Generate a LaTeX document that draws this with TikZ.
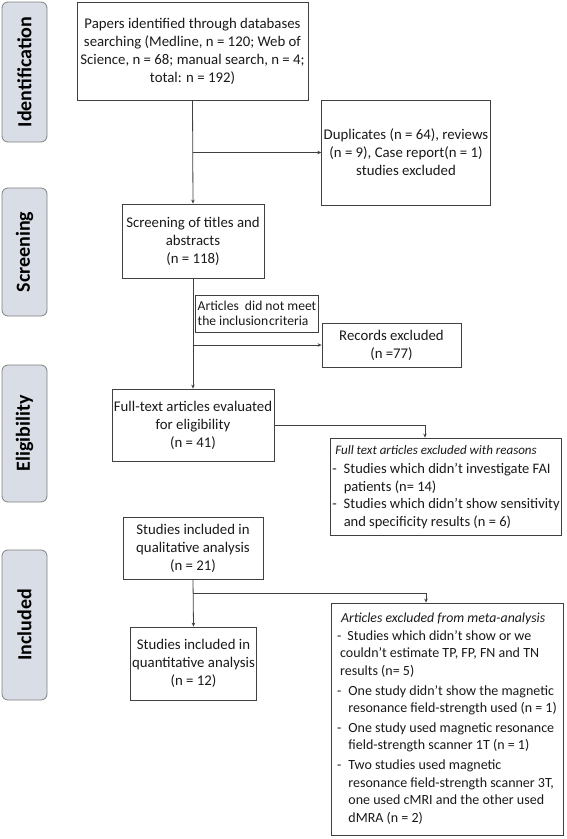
\documentclass[tikz,border=0pt]{standalone}
\usepackage{fontspec}
\setmainfont{Carlito}
\usetikzlibrary{arrows.meta}
\definecolor{phasefill}{RGB}{216,221,230}
\definecolor{linecol}{RGB}{64,64,64}
\begin{document}
\begin{tikzpicture}[x=1pt,y=-1pt,
  box/.style={draw=linecol, line width=0.8pt, align=center, inner sep=2pt,
    font=\fontsize{14.8}{18}\selectfont, text=black!90},
  phase/.style={draw=black!50, fill=phasefill, rounded corners=6pt, line width=0.8pt,
    minimum height=45, rotate=90, inner sep=0pt, font=\fontsize{20}{24}\selectfont\bfseries},
  conn/.style={draw=linecol, line width=0.8pt},
  arr/.style={conn, -{Stealth[length=4pt,width=3.5pt]}}]
\useasboundingbox (0,0) rectangle (567,839);

% phase labels
\node[phase, minimum width=140] (pid) at (24.5,72) {Identification};
\node[phase, minimum width=128] (pscr) at (24.5,252) {Screening};
\node[phase, minimum width=137] (pel) at (24.5,433.5) {Eligibility};
\node[phase, minimum width=150] (pinc) at (24.5,625) {Included};

% boxes
\node[box, minimum width=231, minimum height=98] (id) at (192.5,51)
  {Papers identified through databases\\searching (Medline, n = 120; Web of\\Science, n = 68; manual search, n = 4;\\total: n = 192)};
\node[box, minimum width=168, minimum height=105] (dup) at (406,152.5)
  {Duplicates (n = 64), reviews\\(n = 9), Case report(n = 1)\\studies excluded};
\node[box, minimum width=142, minimum height=74] (scr) at (193,241)
  {Screening of titles and\\abstracts\\(n = 118)};
\node[box, minimum width=122, minimum height=37, align=left,
  font=\fontsize{13.6}{15.5}\selectfont] (crit) at (257,313.5)
  {Articles~ did not meet\\the inclusion\hspace{1pt}criteria};
\node[box, minimum width=139, minimum height=44] (rec) at (391.5,345)
  {Records excluded\\(n =77)};
\node[box, minimum width=160, minimum height=72] (full) at (193,425)
  {Full-text articles evaluated\\for eligibility\\(n = 41)};
\node[box, minimum width=228, minimum height=97, font=\fontsize{14.5}{17.5}\selectfont] (fte) at (446,486.5)
  {\begin{tabular}{@{}l@{\hspace{7pt}}l@{}}
   \multicolumn{2}{@{}l@{}}{\fontsize{13}{17}\selectfont\itshape\hspace{3pt}Full text articles excluded with reasons}\\[2pt]
   - & Studies which didn't investigate FAI\\
     & patients (n= 14)\\
   - & Studies which didn't show sensitivity\\
     & and specificity results (n = 6)
   \end{tabular}};
\node[box, minimum width=140, minimum height=62] (qual) at (193,548)
  {Studies included in\\qualitative analysis\\(n = 21)};
\node[box, minimum width=125, minimum height=73] (quant) at (193.5,663.5)
  {Studies included in\\quantitative analysis\\(n = 12)};
\node[box, minimum width=232, minimum height=232, font=\fontsize{14}{17.6}\selectfont] (ame) at (447,719)
  {\begin{tabular}{@{}l@{\hspace{7pt}}l@{}}
   \multicolumn{2}{@{}l@{}}{\fontsize{13.8}{17}\selectfont\itshape\hspace{4pt}Articles excluded from meta-analysis}\\
   - & \hspace{-1pt}Studies which didn't show or we\\
   \multicolumn{2}{@{}l@{}}{\hspace{3pt}couldn't estimate TP, FP, FN and TN}\\
   \multicolumn{2}{@{}l@{}}{\hspace{3pt}results (n= 5)}\\[2pt]
   - & One study didn't show the magnetic\\
     & resonance field-strength used (n = 1)\\[2pt]
   - & One study used magnetic resonance\\
     & field-strength scanner 1T (n = 1)\\[2pt]
   - & Two studies used magnetic\\
     & resonance field-strength scanner 3T,\\
     & one used cMRI and the other used\\
     & dMRA (n = 2)
   \end{tabular}};

% connectors
\coordinate (k1) at (425,423);
\coordinate (k2) at (426,593);
\draw[arr] (id.south) -- (scr.north);
\draw[arr] (id.south |- dup.west) -- (dup.west);
\draw[arr] (scr.south) -- (full.north);
\draw[arr] (scr.south |- rec.west) -- (rec.west);
\draw[arr] (full.east) -- (full.east -| k1) -- (k1 |- fte.north);
\draw[arr] (qual.south) -- (quant.north);
\draw[arr] (qual.south |- k2) -- (k2) -- (k2 |- ame.north);
\end{tikzpicture}
\end{document}
